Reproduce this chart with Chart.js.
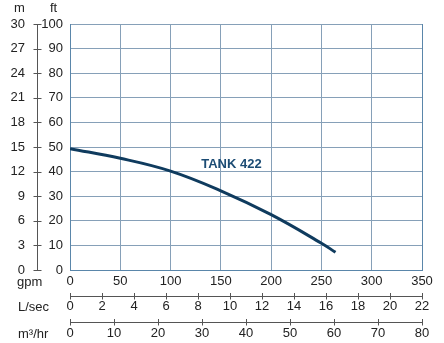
<!DOCTYPE html>
<html>
<head>
<meta charset="utf-8">
<script src="https://cdn.jsdelivr.net/npm/chart.js@4/dist/chart.umd.min.js"></script>
<style>
  html, body { margin: 0; padding: 0; background: #fff; }
  #wrap { width: 444px; height: 343px; }
</style>
</head>
<body>
<div id="wrap"><canvas id="c" width="444" height="343"></canvas></div>
<script>
// Pump curve TANK 422: flow (gpm) vs head (ft)
const curveName = 'TANK 422';
const flowGpm = [0, 50, 100, 150, 200, 250, 264];
const headFt  = [49.3, 45.4, 40.2, 32.2, 22.5, 10.9, 7.2];

// Axis tick values
const gpmTicks  = [0, 50, 100, 150, 200, 250, 300, 350];
const ftTicks   = [0, 10, 20, 30, 40, 50, 60, 70, 80, 90, 100];
const mTicks    = [0, 3, 6, 9, 12, 15, 18, 21, 24, 27, 30];
const lsecTicks = [0, 2, 4, 6, 8, 10, 12, 14, 16, 18, 20, 22];
const m3hTicks  = [0, 10, 20, 30, 40, 50, 60, 70, 80];

// Unit captions
const unitLabels = ['gpm', 'L/sec', 'm³/hr'];
const headUnits = ['m', 'ft'];

const FONT = '"Liberation Sans", Arial, Helvetica, sans-serif';
const textColor = '#222';
const gridColor = '#86a0b8';
const edgeColor = '#5a86aa';
const curveColor = '#0f3b5e';

const useTicks = arr => scale => { scale.ticks = arr.map(v => ({ value: v })); };
const tickFont = { family: FONT, size: 13 };

// Crossing tick marks on the secondary axes and the caption texts
const extras = {
  id: 'extras',
  afterDraw(chart) {
    const { ctx } = chart;
    const s = chart.scales;
    ctx.save();
    ctx.strokeStyle = '#555';
    ctx.lineWidth = 1;
    // m axis ticks
    const mx = Math.round(s.m.right) + 0.5;
    mTicks.forEach(v => {
      const y = Math.round(s.m.getPixelForValue(v)) + 0.5;
      ctx.beginPath(); ctx.moveTo(mx - 4, y); ctx.lineTo(mx + 4, y); ctx.stroke();
    });
    // L/sec and m3/hr ticks
    [['lsec', lsecTicks], ['m3h', m3hTicks]].forEach(([id, arr]) => {
      const sc = s[id];
      const y = Math.round(sc.top) + 0.5;
      arr.forEach(v => {
        const x = Math.round(sc.getPixelForValue(v)) + 0.5;
        ctx.beginPath(); ctx.moveTo(x, y - 3.5); ctx.lineTo(x, y + 3); ctx.stroke();
      });
    });
    // captions
    ctx.fillStyle = textColor;
    ctx.font = '13px ' + FONT;
    ctx.textBaseline = 'middle';
    ctx.textAlign = 'left';
    ctx.fillText(unitLabels[0], 17, 282);
    ctx.fillText(unitLabels[1], 18, 307);
    ctx.fillText(unitLabels[2], 18, 334);
    ctx.textAlign = 'center';
    ctx.fillText(headUnits[0], 19.5, 8);
    ctx.fillText(headUnits[1], 53.5, 8);
    // curve name
    ctx.fillStyle = '#1c4c74';
    ctx.font = 'bold 13px ' + FONT;
    ctx.textAlign = 'left';
    ctx.fillText(curveName, s.x.getPixelForValue(130.5), s.y.getPixelForValue(43));
    ctx.restore();
  }
};

new Chart(document.getElementById('c'), {
  type: 'line',
  data: {
    datasets: [{
      label: curveName,
      data: flowGpm.map((q, i) => ({ x: q, y: headFt[i] })),
      borderColor: curveColor,
      borderWidth: 3,
      pointRadius: 0,
      tension: 0.4,
      fill: false,
      xAxisID: 'x',
      yAxisID: 'y'
    }]
  },
  options: {
    responsive: false,
    animation: false,
    layout: { padding: { top: 24, right: 22, left: 0, bottom: 0 } },
    plugins: { legend: { display: false }, tooltip: { enabled: false } },
    scales: {
      x: {
        type: 'linear', position: 'bottom', weight: 0, min: 0, max: 350,
        afterBuildTicks: useTicks(gpmTicks),
        afterFit: s => { s.height = 26; },
        grid: { color: c => (c.tick && c.tick.value === 350 ? edgeColor : gridColor), drawTicks: false, lineWidth: 1 },
        border: { color: edgeColor, width: 1 },
        ticks: { font: tickFont, color: textColor, padding: 4, maxRotation: 0, autoSkip: false }
      },
      lsec: {
        type: 'linear', position: 'bottom', weight: 1, min: 0, max: 22,
        afterBuildTicks: useTicks(lsecTicks),
        afterFit: s => { s.height = 26; },
        grid: { display: false, drawTicks: false },
        border: { color: '#555', width: 1 },
        ticks: { font: tickFont, color: textColor, padding: 3, maxRotation: 0, autoSkip: false }
      },
      m3h: {
        type: 'linear', position: 'bottom', weight: 2, min: 0, max: 80,
        afterBuildTicks: useTicks(m3hTicks),
        afterFit: s => { s.height = 21; },
        grid: { display: false, drawTicks: false },
        border: { color: '#555', width: 1 },
        ticks: { font: tickFont, color: textColor, padding: 4, maxRotation: 0, autoSkip: false }
      },
      y: {
        type: 'linear', position: 'left', weight: 0, min: 0, max: 100,
        afterBuildTicks: useTicks(ftTicks),
        afterFit: s => { s.width = 33; },
        grid: { color: gridColor, drawTicks: false, lineWidth: 1 },
        border: { color: edgeColor, width: 1 },
        ticks: { font: tickFont, color: textColor, padding: 7, autoSkip: false }
      },
      m: {
        type: 'linear', position: 'left', weight: 1, min: 0, max: 30,
        afterBuildTicks: useTicks(mTicks),
        afterFit: s => { s.width = 37; },
        grid: { display: false, drawTicks: false },
        border: { color: '#555', width: 1 },
        ticks: { font: tickFont, color: textColor, padding: 12, autoSkip: false }
      }
    }
  },
  plugins: [extras]
});
</script>
</body>
</html>
